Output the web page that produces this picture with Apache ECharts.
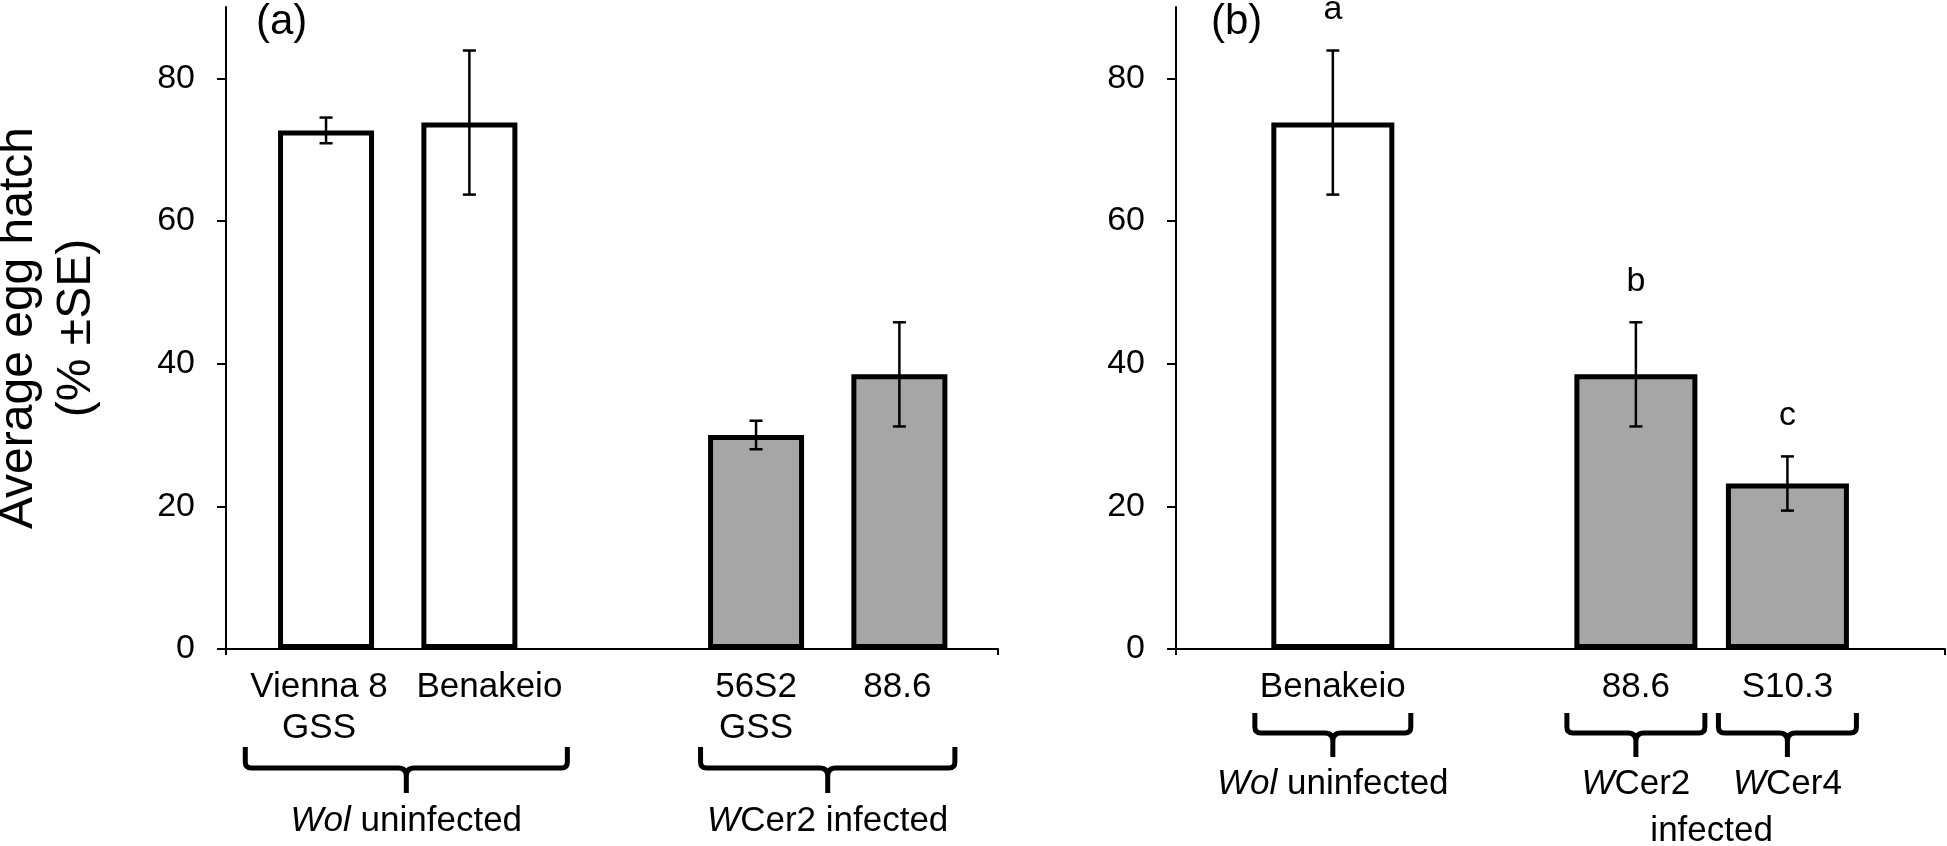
<!DOCTYPE html>
<html><head><meta charset="utf-8">
<script src="https://cdn.jsdelivr.net/npm/echarts@6/dist/echarts.min.js"></script>
<style>html,body{margin:0;padding:0;background:#fff}#c{width:1947px;height:846px}</style>
</head><body><div id="c"></div>
<script>
// ---------------- data ----------------
const categoriesA = ['Vienna 8\nGSS', 'Benakeio', '56S2\nGSS', '88.6'];
const slotsA = [1, 2, 4, 5];
const meansA = [72.7, 73.8, 30.0, 38.5];
const seA = [1.8, 10.1, 2.0, 7.3];
const infectedA = [0, 0, 1, 1];
const groupLabelsA = ['Wol uninfected', 'WCer2 infected'];
const groupItalicA = ['Wol', 'W'];
const groupMembersA = [[0, 1], [2, 3]];

const categoriesB = ['Benakeio', '88.6', 'S10.3'];
const slotsB = [1, 3, 4];
const meansB = [73.8, 38.5, 23.2];
const seB = [10.1, 7.3, 3.8];
const infectedB = [0, 1, 1];
const lettersB = ['a', 'b', 'c'];
const groupLabelsB = ['Wol uninfected', 'WCer2', 'WCer4'];
const groupItalicB = ['Wol', 'W', 'W'];
const groupMembersB = [[0], [1], [2]];
const sharedLabelB = 'infected';
const sharedGroupsB = [1, 2];

const yTicks = [0, 20, 40, 60, 80];
const yMax = 90;
const panelLabels = ['(a)', '(b)'];
const yTitle = 'Average egg hatch\n(% \u00B1SE)';

// ---------------- style ----------------
const FONT = '"Liberation Sans", Arial, Helvetica, sans-serif';
const BLACK = '#000000';
const FILLS = ['#ffffff', '#a6a6a6'];
const BORDER = 5;
const CAT_FS = 35, TICK_FS = 34;
const CHART_W = 1947;
const labelShiftA = [-7, 20, 0, -2];   // px nudges of category labels (style only)
const labelShiftB = [0, 0, 0];

const ctx = document.createElement('canvas').getContext('2d');
function textW(t, fs) {
  ctx.font = fs + 'px ' + FONT;
  return Math.max.apply(null, t.split('\n').map(s => ctx.measureText(s).width));
}

const panels = [
  {cats: categoriesA, slots: slotsA, means: meansA, se: seA, inf: infectedA, letters: null, shift: labelShiftA,
   gLabels: groupLabelsA, gItalic: groupItalicA, gMembers: groupMembersA, shared: null, sharedGroups: null,
   grid: {left: 226, right: 949, top: 7, bottom: 197}, xMin: 0.302, xMax: 5.688, barW: 96,
   braceTop: 98, braceBot: 119, notch: 144, gLabelY: 172, sharedY: 0},
  {cats: categoriesB, slots: slotsB, means: meansB, se: seB, inf: infectedB, letters: lettersB, shift: labelShiftB,
   gLabels: groupLabelsB, gItalic: groupItalicB, gMembers: groupMembersB, shared: sharedLabelB, sharedGroups: sharedGroupsB,
   grid: {left: 1176, right: 2, top: 7, bottom: 197}, xMin: -0.035, xMax: 5.04, barW: 123,
   braceTop: 64, braceBot: 84, notch: 108, gLabelY: 135, sharedY: 182}
];

const option = {animation: false, grid: [], xAxis: [], yAxis: [], series: [], title: []};

panels.forEach((p, k) => {
  option.grid.push(Object.assign({outerBoundsMode: 'none', containLabel: false}, p.grid));
  option.title.push({text: panelLabels[k], left: k === 0 ? 256 : 1211, top: 1, padding: 0,
    textStyle: {fontFamily: FONT, fontSize: 42, fontWeight: 'normal', color: BLACK}});

  const pxPerUnit = (CHART_W - p.grid.left - p.grid.right) / (p.xMax - p.xMin);
  const labelPos = p.slots.map((s, i) => s + p.shift[i] / pxPerUnit);
  option.xAxis.push({
    type: 'value', gridIndex: k, min: p.xMin, max: p.xMax,
    splitLine: {show: false},
    axisLine: {show: true, onZero: false, lineStyle: {color: BLACK, width: 2}},
    axisTick: {show: true, customValues: [p.xMin, p.xMax], length: 6, lineStyle: {color: BLACK, width: 2}},
    axisLabel: {show: true, customValues: labelPos, margin: 18, hideOverlap: false,
      showMinLabel: true, showMaxLabel: true,
      formatter: v => {
        let best = 0;
        labelPos.forEach((lp, i) => { if (Math.abs(lp - v) < Math.abs(labelPos[best] - v)) best = i; });
        return p.cats[best];
      },
      fontFamily: FONT, fontSize: CAT_FS, lineHeight: 41, color: BLACK, align: 'center'}
  });
  const y = {
    type: 'value', gridIndex: k, min: 0, max: yMax,
    splitLine: {show: false},
    axisLine: {show: true, onZero: false, lineStyle: {color: BLACK, width: 2}},
    axisTick: {show: true, customValues: yTicks, length: 9, lineStyle: {color: BLACK, width: 2}},
    axisLabel: {show: true, customValues: yTicks, margin: 31, fontFamily: FONT, fontSize: TICK_FS, color: BLACK,
      showMinLabel: true, showMaxLabel: true}
  };
  if (k === 0) {
    Object.assign(y, {name: yTitle, nameLocation: 'middle', nameRotate: 90, nameGap: 120, nameMoveOverlap: false,
      nameTextStyle: {fontFamily: FONT, fontSize: 48, lineHeight: 58, color: BLACK}});
  }
  option.yAxis.push(y);

  // bars
  option.series.push({
    type: 'bar', xAxisIndex: k, yAxisIndex: k, barWidth: p.barW, z: 3,
    itemStyle: {borderColor: BLACK, borderWidth: BORDER},
    data: p.slots.map((s, i) => ({value: [s, p.means[i]], itemStyle: {color: FILLS[p.inf[i]]}}))
  });

  // error bars + significance letters
  option.series.push({
    type: 'custom', xAxisIndex: k, yAxisIndex: k, z: 4, clip: false,
    data: p.slots.map((s, i) => [s, p.means[i], p.se[i]]),
    encode: {x: 0, y: 1},
    renderItem: (params, api) => {
      const x = api.value(0), m = api.value(1), s = api.value(2);
      const t = api.coord([x, m + s]), b = api.coord([x, m - s]);
      const hw = 6.5, st = {stroke: BLACK, lineWidth: 2.5};
      const ch = [
        {type: 'line', shape: {x1: t[0], y1: t[1], x2: b[0], y2: b[1]}, style: st},
        {type: 'line', shape: {x1: t[0] - hw, y1: t[1], x2: t[0] + hw, y2: t[1]}, style: st},
        {type: 'line', shape: {x1: b[0] - hw, y1: b[1], x2: b[0] + hw, y2: b[1]}, style: st}
      ];
      if (p.letters) {
        ch.push({type: 'text', style: {text: p.letters[params.dataIndex], x: t[0], y: t[1] - 24,
          align: 'center', verticalAlign: 'bottom', fill: BLACK, fontFamily: FONT, fontSize: 34}});
      }
      return {type: 'group', children: ch};
    }
  });

  // braces + group labels
  function extent(api, g) {
    let L = Infinity, R = -Infinity;
    p.gMembers[g].forEach(i => {
      const cx = api.coord([p.slots[i], 0])[0];
      const bh = (p.barW + BORDER) / 2;
      const lh = textW(p.cats[i], CAT_FS) / 2, lc = cx + p.shift[i];
      L = Math.min(L, cx - bh, lc - lh); R = Math.max(R, cx + bh, lc + lh);
    });
    return [L - 5, R + 5];
  }
  function rich(g) {
    const it = p.gItalic[g], full = p.gLabels[g];
    const rest = full.slice(it.length);
    return '{i|' + it + '}{n|' + rest.replace(/ /g, '\u00A0') + '}';
  }
  const richStyle = {
    i: {fontFamily: FONT, fontSize: CAT_FS, fontStyle: 'italic', fill: BLACK},
    n: {fontFamily: FONT, fontSize: CAT_FS, fill: BLACK}
  };
  option.series.push({
    type: 'custom', xAxisIndex: k, yAxisIndex: k, z: 4, clip: false, silent: true,
    data: p.gLabels.map((_, g) => [p.slots[p.gMembers[g][0]], 0]),
    encode: {x: 0, y: 1},
    renderItem: (params, api) => {
      const g = params.dataIndex;
      const [L, R] = extent(api, g);
      const y0 = api.coord([p.slots[0], 0])[1];
      const yt = y0 + p.braceTop, yb = y0 + p.braceBot, yn = y0 + p.notch;
      const cx = (L + R) / 2, r = 6, q = 8;
      const d = `M${L},${yt} L${L},${yb - r} Q${L},${yb} ${L + r},${yb} L${cx - q},${yb} Q${cx},${yb} ${cx},${yb + q} L${cx},${yn}` +
                ` M${cx},${yb + q} Q${cx},${yb} ${cx + q},${yb} L${R - r},${yb} Q${R},${yb} ${R},${yb - r} L${R},${yt}`;
      const ch = [
        {type: 'path', shape: {pathData: d}, style: {stroke: BLACK, lineWidth: 5, fill: null, lineJoin: 'round'}},
        {type: 'text', style: {text: rich(g), rich: richStyle, x: cx, y: y0 + p.gLabelY,
          align: 'center', verticalAlign: 'middle', fontFamily: FONT, fontSize: CAT_FS, fill: BLACK}}
      ];
      if (p.shared && g === p.sharedGroups[p.sharedGroups.length - 1]) {
        const cs = p.sharedGroups.map(gg => { const e = extent(api, gg); return (e[0] + e[1]) / 2; });
        const sx = (Math.min.apply(null, cs) + Math.max.apply(null, cs)) / 2;
        ch.push({type: 'text', style: {text: p.shared, x: sx, y: y0 + p.sharedY, align: 'center', verticalAlign: 'middle',
          fontFamily: FONT, fontSize: CAT_FS, fill: BLACK}});
      }
      return {type: 'group', children: ch};
    }
  });
});

const chart = echarts.init(document.getElementById('c'), null, {renderer: 'canvas'});
chart.setOption(option);
</script></body></html>
